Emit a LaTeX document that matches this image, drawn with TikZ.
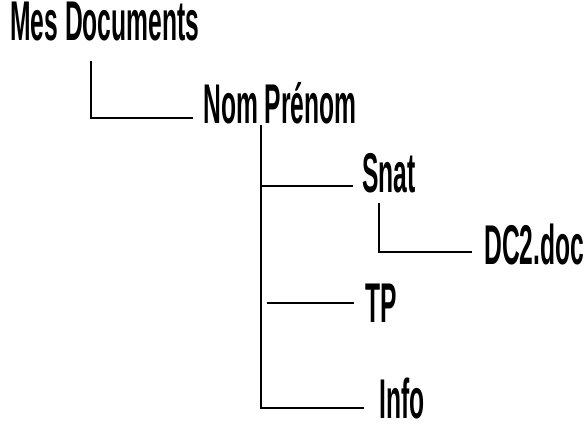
\documentclass[tikz,border=0pt]{standalone}
\usepackage{fontspec}
\setmainfont{Liberation Sans}[FakeStretch=0.44,BoldFont={Liberation Sans Bold},BoldFeatures={FakeStretch=0.44}]
\begin{document}
\begin{tikzpicture}[x=0.75pt,y=-0.75pt,
  lbl/.style={inner sep=0pt,anchor=base west,font=\fontsize{42}{48}\selectfont\bfseries},
  conn/.style={line width=1.5pt,black}]
\useasboundingbox (0,0) rectangle (586,425);
\node[lbl] (mes) at (10,40) {Mes Documents};
\node[lbl] (nom) at (203,123) {Nom Prénom};
\node[lbl] (snat) at (362,192) {Snat};
\node[lbl] (dc) at (484,264) {DC2.doc};
\node[lbl] (tp) at (365,322) {TP};
\node[lbl] (info) at (379,418) {Info};
\coordinate (c1) at (91,61);
\coordinate (c2) at (261,125);
\coordinate (c3) at (379,203);
\draw[conn] (c1) |- ([shift={(-10,-5)}]nom.base west);
\draw[conn] (c2) |- ([shift={(-15,-10)}]info.base west);
\draw[conn] (c2 |- snat.base west) ++(0,-6) -- ([shift={(-9,-6)}]snat.base west);
\draw[conn] ([shift={(-98,-19)}]tp.base west) -- ([shift={(-11,-19)}]tp.base west);
\draw[conn] (c3) |- ([shift={(-12,-12)}]dc.base west);
\end{tikzpicture}
\end{document}
